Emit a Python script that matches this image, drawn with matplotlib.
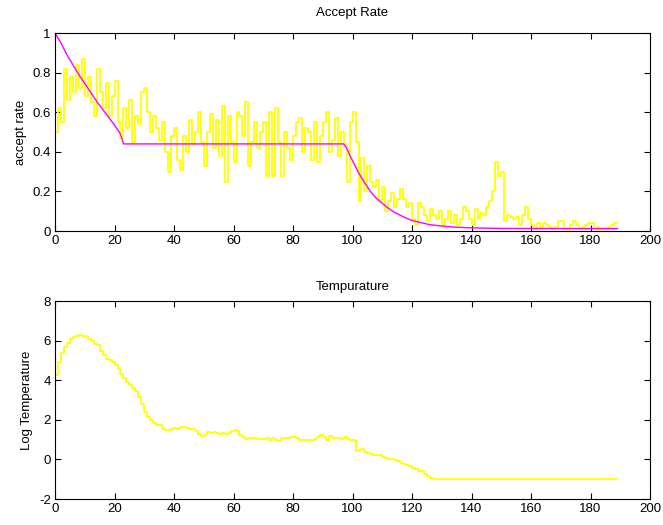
import numpy as np
import matplotlib
matplotlib.use('Agg')
import matplotlib.pyplot as plt

plt.rcParams['font.family'] = ['Liberation Sans', 'DejaVu Sans']
plt.rcParams['axes.unicode_minus'] = False

# accept rate per iteration
accept = [0.50, 0.62, 0.55, 0.82, 0.66, 0.78, 0.70, 0.84, 0.72, 0.87,
          0.68, 0.78, 0.65, 0.58, 0.82, 0.70, 0.62, 0.75, 0.58, 0.68,
          0.76, 0.55, 0.47, 0.62, 0.52, 0.66, 0.45, 0.58, 0.54, 0.70,
          0.72, 0.60, 0.50, 0.58, 0.52, 0.46, 0.55, 0.40, 0.30, 0.48,
          0.52, 0.36, 0.31, 0.48, 0.40, 0.56, 0.44, 0.50, 0.60, 0.45,
          0.33, 0.50, 0.59, 0.42, 0.56, 0.38, 0.63, 0.25, 0.58, 0.45,
          0.35, 0.60, 0.58, 0.48, 0.65, 0.33, 0.45, 0.55, 0.42, 0.50,
          0.55, 0.28, 0.60, 0.28, 0.62, 0.45, 0.28, 0.50, 0.42, 0.36,
          0.48, 0.55, 0.57, 0.40, 0.52, 0.50, 0.36, 0.55, 0.35, 0.48,
          0.55, 0.60, 0.40, 0.46, 0.57, 0.38, 0.50, 0.44, 0.25, 0.55,
          0.60, 0.45, 0.15, 0.37, 0.20, 0.33, 0.25, 0.22, 0.26, 0.15,
          0.22, 0.10, 0.15, 0.19, 0.12, 0.16, 0.21, 0.16, 0.12, 0.14,
          0.06, 0.03, 0.14, 0.12, 0.08, 0.05, 0.11, 0.08, 0.06, 0.10,
          0.03, 0.06, 0.10, 0.04, 0.08, 0.03, 0.06, 0.12, 0.10, 0.06,
          0.03, 0.11, 0.06, 0.09, 0.08, 0.12, 0.15, 0.20, 0.35, 0.28,
          0.30, 0.05, 0.08, 0.07, 0.06, 0.07, 0.03, 0.08, 0.12, 0.06,
          0.03, 0.01, 0.04, 0.02, 0.04, 0.03, 0.02, 0.01, 0.02, 0.05,
          0.05, 0.01, 0.00, 0.03, 0.05, 0.03, 0.01, 0.02, 0.03, 0.04,
          0.04, 0.01, 0.02, 0.00, 0.01, 0.01, 0.02, 0.03, 0.04, 0.04]

# target accept rate curve
target_x = [0, 2, 4, 6, 8, 10, 12, 14, 16, 18, 20, 22, 23, 97, 98, 99, 100,
            102, 104, 106, 108, 110, 112, 114, 116, 118, 120, 123, 126, 130,
            135, 140, 150, 189]
target_y = [1.0, 0.95, 0.89, 0.84, 0.79, 0.745, 0.70, 0.655, 0.615, 0.575,
            0.535, 0.49, 0.44, 0.44, 0.42, 0.385, 0.355, 0.295, 0.245, 0.20,
            0.165, 0.14, 0.115, 0.095, 0.08, 0.065, 0.053, 0.042, 0.032,
            0.025, 0.019, 0.016, 0.013, 0.012]

# log temperature (step points)
temp_x = [0, 1, 2, 3, 4, 5, 6, 7, 8, 9, 10, 11, 12, 13, 14, 15, 16, 17, 18,
          19, 20, 21, 22, 23, 24, 25, 26, 27, 28, 29, 30, 31, 32, 33, 34, 35,
          36, 37, 39, 40, 41, 42, 43, 44, 45, 46, 47, 48, 49, 50, 51, 52, 53,
          54, 55, 56, 57, 58, 59, 60, 61, 62, 63, 64, 65, 66, 67, 68, 70, 71,
          72, 73, 74, 75, 76, 77, 79, 80, 81, 82, 84, 85, 87, 88, 89, 90, 91,
          92, 93, 94, 96, 97, 98, 99, 100, 101, 102, 103, 104, 105, 106, 107,
          108, 109, 110, 111, 112, 113, 114, 115, 116, 117, 118, 119, 120, 121,
          122, 123, 124, 125, 126, 127, 189]
temp_y = [4.25, 4.9, 5.4, 5.7, 5.9, 6.1, 6.2, 6.22, 6.27, 6.22, 6.22, 6.1,
          5.97, 5.85, 5.77, 5.46, 5.26, 5.09, 5.0, 4.9, 4.79, 4.55, 4.33, 4.1,
          3.9, 3.74, 3.6, 3.44, 3.15, 2.8, 2.4, 2.14, 1.97, 1.85, 1.75, 1.72,
          1.52, 1.47, 1.55, 1.58, 1.55, 1.62, 1.64, 1.58, 1.55, 1.52, 1.42,
          1.3, 1.18, 1.25, 1.38, 1.35, 1.38, 1.33, 1.3, 1.35, 1.3, 1.35, 1.42,
          1.48, 1.42, 1.25, 1.13, 1.05, 1.08, 1.1, 1.1, 1.05, 1.05, 1.1, 1.0,
          1.1, 0.96, 0.91, 1.08, 1.1, 1.13, 1.13, 1.08, 1.0, 0.96, 1.0, 1.05,
          1.13, 1.25, 1.13, 1.0, 1.16, 1.08, 1.08, 1.05, 1.13, 1.05, 0.96,
          0.96, 0.45, 0.5, 0.54, 0.4, 0.34, 0.29, 0.24, 0.22, 0.2, 0.12, 0.08,
          0.03, 0.0, -0.02, -0.1, -0.16, -0.22, -0.3, -0.34, -0.44, -0.5,
          -0.56, -0.59, -0.73, -0.84, -0.94, -0.98, -0.98]

fig = plt.figure(figsize=(6.63, 5.25), dpi=100)
ax1 = fig.add_axes([0.083, 0.56, 0.8975, 0.377])
ax2 = fig.add_axes([0.083, 0.0495, 0.8975, 0.377])

x = np.arange(len(accept))
ax1.step(x, accept, where='post', color='yellow', lw=1.3)
ax1.plot(target_x, target_y, color='magenta', lw=1)
ax1.set_xlim(0, 200)
ax1.set_ylim(0, 1)
ax1.set_xticks(range(0, 201, 20))
ax1.set_yticks([0, 0.2, 0.4, 0.6, 0.8, 1])
ax1.set_yticklabels(['0', '0.2', '0.4', '0.6', '0.8', '1'])
ax1.set_title('Accept Rate', fontsize=9.5, pad=12)
ax1.set_ylabel('accept rate', fontsize=9.5)

ax2.step(temp_x, temp_y, where='post', color='yellow', lw=1.3)
ax2.set_xlim(0, 200)
ax2.set_ylim(-2, 8)
ax2.set_xticks(range(0, 201, 20))
ax2.set_yticks(range(-2, 9, 2))
ax2.set_title('Tempurature', fontsize=9.5, pad=8)
ax2.set_ylabel('Log Temperature', fontsize=9.5)

for ax in (ax1, ax2):
    ax.tick_params(direction='in', top=True, right=True, labelsize=9.5,
                   length=4, width=0.8, pad=3)
    for s in ax.spines.values():
        s.set_linewidth(0.8)

fig.savefig('out.png', dpi=100)
